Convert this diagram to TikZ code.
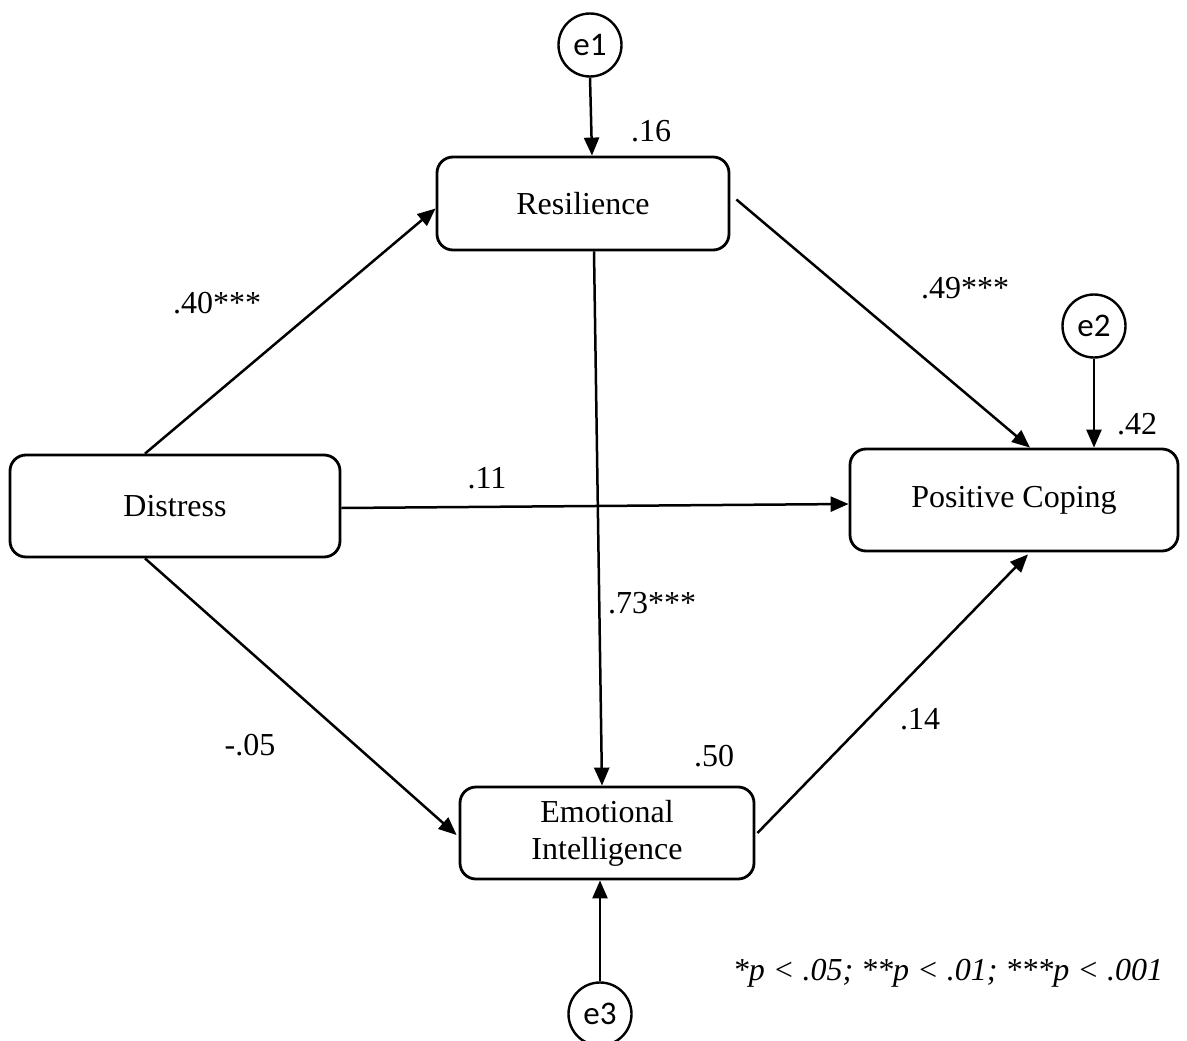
\documentclass[tikz,border=0pt]{standalone}
\usepackage{fontspec}
\setmainfont{Liberation Serif}
\newfontfamily\errfont{Carlito}
\usetikzlibrary{arrows.meta}
\begin{document}
\begin{tikzpicture}[x=1pt,y=-1pt,
  varbox/.style={draw, line width=2.8pt, rounded corners=16pt, align=center,
    inner sep=0pt, font=\fontsize{32}{37}\selectfont},
  errc/.style={draw, circle, line width=2.4pt, minimum size=63pt, inner sep=0pt,
    font=\errfont\fontsize{33}{36}\selectfont},
  path/.style={line width=2.5pt, -{Triangle[length=18pt,width=15pt]}},
  lab/.style={font=\fontsize{32}{36}\selectfont, inner sep=0pt}]
\useasboundingbox (0,0) rectangle (1187,1041);
\node[varbox, minimum width=292pt, minimum height=93pt] (res) at (583,203.5) {Resilience};
\node[varbox, minimum width=330pt, minimum height=102pt] (dis) at (175,506) {Distress};
\node[varbox, minimum width=328pt, minimum height=102pt] (pc) at (1014,500) {Positive Coping};
\node[varbox, minimum width=294pt, minimum height=92pt] (ei) at (607,833) {Emotional\\Intelligence};
\node[errc] (e1) at (590,45) {e1};
\node[errc] (e2) at (1094,326) {e2};
\node[errc] (e3) at (600,1014) {e3};
\draw[path] (e1.south) -- ([xshift=2pt]res.north -| e1.south);
\draw[path] (e2.south) -- (pc.north -| e2.south);
\draw[path] (e3.north) -- ([xshift=-7pt]ei.south);
\draw[path] ([xshift=-30pt]dis.north) -- ([yshift=-5pt]res.west);
\draw[path] ([xshift=6pt,yshift=4pt]res.east) -- ([xshift=16pt]pc.north);
\draw[path] ([yshift=-2pt]dis.east) -- ([yshift=-4pt]pc.west);
\draw[path] ([xshift=11pt]res.south) -- ([xshift=-5pt]ei.north);
\draw[path] ([xshift=-30pt]dis.south) -- ([yshift=-2pt,xshift=-2pt]ei.west);
\draw[path] ([xshift=2pt]ei.east) -- ([xshift=14pt,yshift=-2pt]pc.south);
\node[lab] (l16) at (651,131) {.16};
\node[lab] (l40) at (217,303) {.40***};
\node[lab] (l49) at (965,288) {.49***};
\node[lab] (l42) at (1137,424) {.42};
\node[lab] (l11) at (487,478) {.11};
\node[lab] (l73) at (652,603) {.73***};
\node[lab] (l05) at (250,745) {-.05};
\node[lab] (l14) at (920,719) {.14};
\node[lab] (l50) at (714,756) {.50};
\node[lab, font=\itshape\fontsize{32}{36}\selectfont] (note) at (948,973) {*p < .05; **p < .01; ***p < .001};
\end{tikzpicture}
\end{document}
